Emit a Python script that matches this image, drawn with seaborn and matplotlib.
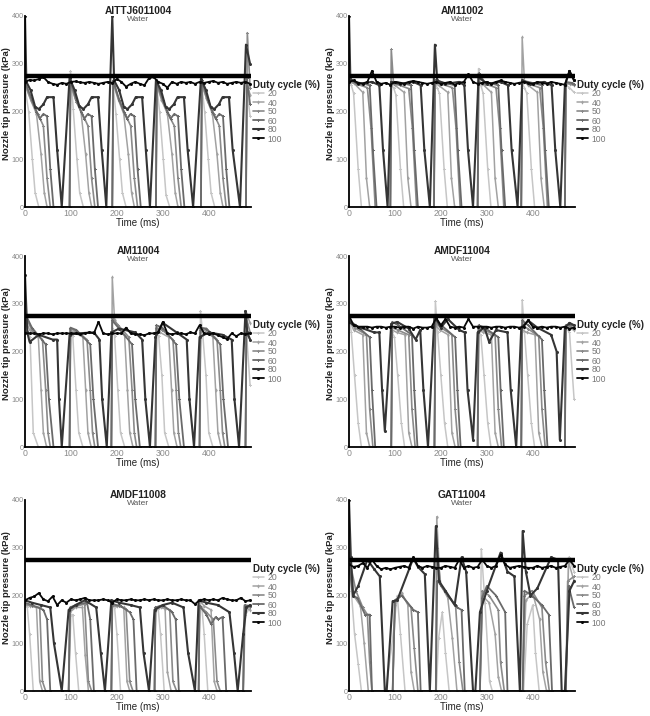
import matplotlib
matplotlib.use("Agg")
import matplotlib.pyplot as plt
import numpy as np
import pandas as pd
import seaborn as sns

sns.set_theme(style="white")
plt.rcParams["font.family"] = ["Liberation Sans", "DejaVu Sans"]

# ---------------- data ----------------
NOZZLES = ["AITTJ6011004", "AM11002", "AM11004", "AMDF11004", "AMDF11008", "GAT11004"]
SUBTITLE = "Water"
DUTY = ["20", "40", "50", "60", "80", "100"]
REF_PRESSURE = 275
X_TICKS = [0, 100, 200, 300, 400]
Y_TICKS = [0, 100, 200, 300, 400]
TIME_100 = list(range(0, 500, 10))

# ---- AITTJ6011004 (time ms, pressure kPa)
A_20 = [(0,250),(8,200),(16,100),(22,30),(30,0),(97,0),(99,285),(105,205),(113,100),(119,30),(127,0),
        (190,0),(192,255),(198,195),(206,100),(212,30),(220,0),(285,0),(287,250),(293,200),(301,100),(307,25),(315,0),
        (383,0),(385,255),(391,200),(399,100),(405,30),(413,0),(481,0),(483,250),(490,190)]
A_40 = [(0,255),(12,225),(25,195),(35,110),(42,30),(48,0),(97,0),(99,255),(109,228),(122,198),(132,110),(139,30),(145,0),
        (190,0),(192,258),(202,228),(215,195),(225,110),(232,30),(238,0),(285,0),(287,255),(297,225),(310,195),(320,110),(327,30),(333,0),
        (383,0),(385,255),(395,228),(408,195),(418,110),(425,30),(431,0),(481,0),(483,260),(490,235)]
A_50 = [(0,258),(15,220),(28,195),(40,170),(48,60),(55,0),(97,0),(99,260),(112,220),(125,195),(137,170),(145,60),(152,0),
        (190,0),(192,262),(205,222),(218,195),(230,170),(238,60),(245,0),(285,0),(287,258),(300,220),(313,192),(325,170),(333,60),(340,0),
        (383,0),(385,260),(398,220),(411,195),(423,170),(431,60),(438,0),(481,0),(484,365),(490,250)]
A_60 = [(0,262),(15,225),(25,200),(32,185),(40,195),(48,190),(55,80),(62,0),(97,0),(99,265),(112,225),(122,200),(129,185),(137,195),(145,190),(152,80),(159,0),
        (190,0),(192,265),(205,225),(215,200),(222,185),(230,195),(238,190),(245,80),(252,0),(285,0),(287,262),(300,225),(310,200),(317,185),(325,195),(333,190),(340,80),(347,0),
        (383,0),(385,265),(398,225),(408,200),(415,185),(423,195),(431,190),(438,80),(445,0),(481,0),(483,270),(490,215)]
A_80 = [(0,400),(3,262),(12,245),(22,210),(30,205),(40,215),(48,230),(62,230),(70,120),(80,0),
        (97,270),(108,245),(118,212),(127,205),(137,215),(145,230),(159,230),(167,120),(177,0),
        (190,400),(194,265),(205,245),(215,210),(223,205),(233,215),(241,230),(255,230),(263,120),(272,0),
        (285,265),(296,245),(306,210),(314,205),(324,215),(332,230),(346,230),(354,120),(366,0),
        (383,268),(394,245),(404,210),(412,205),(422,215),(430,230),(444,230),(452,120),(468,0),(481,340),(490,300)]
A_100 = [262,266,265,268,272,262,258,256,260,258,262,263,261,260,262,260,258,260,262,260,
         268,262,252,258,262,258,255,270,272,262,258,250,262,258,262,260,262,258,262,260,
         262,264,260,262,258,260,262,260,262,258]

# ---- AM11002
B_20 = [(0,262),(5,255),(10,238),(20,80),(27,0),(90,0),(92,255),(97,250),(102,235),(112,80),(119,0),
        (185,0),(187,258),(192,250),(197,238),(207,80),(214,0),(280,0),(282,290),(287,255),(292,238),(302,80),(309,0),
        (375,0),(377,258),(382,250),(387,238),(397,80),(404,0),(470,0),(472,255),(480,250),(490,240)]
B_40 = [(0,265),(10,260),(30,240),(38,60),(45,0),(90,0),(92,258),(100,255),(120,240),(128,60),(135,0),
        (185,0),(187,258),(195,255),(215,240),(223,60),(230,0),(280,0),(282,262),(290,258),(310,240),(318,60),(325,0),
        (375,0),(377,355),(382,262),(390,255),(410,240),(418,60),(425,0),(470,0),(472,258),(482,258),(490,255)]
B_50 = [(0,262),(15,258),(40,250),(48,165),(57,0),(90,0),(92,330),(97,258),(110,255),(130,248),(138,165),(147,0),
        (185,0),(187,260),(200,258),(225,250),(233,165),(242,0),(280,0),(282,262),(295,258),(320,250),(328,165),(337,0),
        (375,0),(377,262),(390,258),(415,250),(423,165),(432,0),(470,0),(472,260),(490,255)]
B_60 = [(0,265),(15,262),(45,255),(52,120),(60,0),(90,0),(92,262),(105,262),(135,255),(142,120),(150,0),
        (185,0),(187,265),(200,262),(230,255),(237,120),(245,0),(280,0),(282,280),(295,262),(325,255),(332,120),(340,0),
        (375,0),(377,265),(390,262),(420,255),(427,120),(435,0),(470,0),(472,262),(485,260),(490,258)]
B_80 = [(0,400),(3,268),(20,258),(50,262),(66,255),(74,120),(84,0),
        (92,262),(110,258),(140,262),(156,255),(164,120),(176,0),
        (187,340),(192,265),(210,258),(240,262),(251,255),(259,120),(270,0),
        (282,272),(300,258),(330,262),(346,255),(354,120),(367,0),
        (377,265),(395,258),(425,262),(441,255),(449,120),(460,0),(470,255),(480,285),(490,265)]
B_100 = [262,265,260,258,262,285,262,258,260,256,262,260,258,262,264,262,260,258,260,262,
         258,260,262,256,260,262,278,262,258,260,262,258,262,265,262,260,258,260,262,260,
         258,262,260,258,262,260,258,256,285,265]

# ---- AM11004
C_20 = [(0,265),(5,245),(11,230),(18,30),(29,0),(97,0),(99,242),(104,232),(111,120),(117,30),(126,0),
        (188,0),(190,250),(195,232),(202,120),(208,30),(217,0),(284,0),(286,242),(291,232),(298,150),(304,30),(313,0),
        (380,0),(382,285),(387,235),(394,150),(400,30),(409,0),(480,0),(482,240),(490,130)]
C_40 = [(0,270),(10,245),(29,230),(35,120),(40,30),(47,0),(97,0),(99,245),(107,240),(126,230),(132,120),(137,30),(144,0),
        (188,0),(190,355),(195,265),(217,232),(223,120),(228,30),(235,0),(284,0),(286,248),(294,240),(313,230),(319,120),(324,30),(331,0),
        (380,0),(382,240),(392,245),(409,230),(415,120),(420,30),(427,0),(480,0),(482,280),(490,260)]
C_50 = [(0,275),(15,245),(38,225),(45,120),(50,30),(55,0),(97,0),(99,248),(112,242),(135,225),(142,120),(147,30),(152,0),
        (188,0),(190,270),(203,255),(226,230),(233,120),(238,30),(243,0),(284,0),(286,250),(299,245),(322,225),(329,120),(334,30),(339,0),
        (380,0),(382,245),(395,248),(418,225),(425,120),(430,30),(435,0),(480,0),(482,270),(490,240)]
C_60 = [(0,280),(15,250),(45,215),(52,100),(62,0),(97,0),(99,250),(112,245),(142,215),(149,100),(159,0),
        (188,0),(190,265),(203,250),(233,215),(240,100),(250,0),(284,0),(286,255),(299,250),(329,215),(336,100),(346,0),
        (380,0),(382,250),(395,248),(425,215),(432,100),(442,0),(480,0),(482,240),(490,225)]
C_80 = [(0,360),(5,240),(10,220),(30,235),(60,225),(70,225),(74,100),(80,0),
        (97,235),(115,238),(150,240),(162,225),(168,100),(178,0),
        (188,240),(205,248),(240,240),(255,225),(262,100),(272,0),
        (284,230),(300,260),(330,240),(352,225),(358,100),(368,0),
        (380,230),(400,240),(430,235),(450,225),(456,100),(466,0),(480,285),(484,240),(490,225)]
C_100 = [238,238,238,236,238,238,236,238,238,238,238,238,236,238,240,238,262,238,236,238,
         238,238,250,238,236,236,234,238,238,240,262,238,236,238,238,236,240,238,255,238,
         236,238,234,230,226,238,232,238,236,238]

# ---- AMDF11004
D_20 = [(0,275),(5,240),(12,150),(20,50),(27,0),(92,0),(94,240),(99,230),(106,150),(114,50),(121,0),
        (186,0),(188,305),(193,240),(200,150),(208,50),(215,0),(280,0),(282,240),(287,235),(294,150),(302,50),(309,0),
        (375,0),(377,308),(382,240),(389,150),(397,50),(404,0),(470,0),(472,250),(480,240),(490,100)]
D_40 = [(0,270),(10,245),(30,235),(38,30),(45,0),(92,0),(94,245),(104,240),(122,235),(130,30),(137,0),
        (186,0),(188,255),(198,245),(216,235),(224,30),(231,0),(280,0),(282,245),(292,240),(310,235),(318,30),(325,0),
        (375,0),(377,245),(387,240),(405,235),(413,30),(420,0),(470,0),(472,250),(490,245)]
D_50 = [(0,268),(12,250),(38,235),(45,80),(52,0),(92,0),(94,250),(106,245),(130,235),(137,80),(144,0),
        (186,0),(188,260),(200,250),(224,235),(231,80),(238,0),(280,0),(282,250),(294,245),(318,235),(325,80),(332,0),
        (375,0),(377,255),(389,248),(413,232),(420,80),(427,0),(470,0),(472,255),(490,250)]
D_60 = [(0,265),(15,255),(45,230),(50,120),(57,0),(92,0),(94,262),(107,255),(137,235),(142,120),(149,0),
        (186,0),(188,265),(201,255),(231,230),(236,120),(243,0),(280,0),(282,255),(295,250),(325,230),(330,120),(337,0),
        (375,0),(377,265),(390,255),(420,225),(425,120),(432,0),(470,0),(472,255),(490,255)]
D_80 = [(0,262),(10,255),(25,250),(55,240),(66,240),(72,120),(78,33),
        (92,258),(105,262),(130,248),(145,225),(155,245),(162,120),(172,0),
        (186,275),(200,250),(215,268),(240,245),(252,240),(258,120),(270,15),
        (280,240),(295,250),(305,220),(320,245),(345,240),(352,120),(364,0),
        (375,250),(390,265),(410,250),(440,235),(452,200),(459,15),(470,250),(480,260),(490,255)]
D_100 = [275,255,252,252,252,250,252,252,250,252,252,250,252,252,248,252,250,250,252,270,
         255,268,252,250,252,250,268,252,252,252,252,250,252,252,250,252,252,250,252,265,
         252,250,252,250,252,252,250,252,248,250]

# ---- AMDF11008
E_20 = [(0,178),(5,175),(10,120),(18,0),(95,0),(100,160),(104,160),(110,80),(117,0),
        (188,0),(190,178),(195,175),(200,120),(208,0),(282,0),(284,165),(290,172),(295,120),(303,0),
        (378,0),(380,185),(385,175),(390,120),(398,0),(475,0),(480,160),(490,175)]
E_40 = [(0,180),(10,178),(25,175),(32,20),(38,0),(95,0),(98,165),(110,175),(125,175),(131,75),(138,0),
        (188,0),(190,185),(200,178),(215,175),(222,20),(228,0),(282,0),(284,170),(295,175),(305,172),(310,40),(318,0),
        (378,0),(380,190),(390,178),(405,170),(412,20),(418,0),(475,0),(478,175),(490,170)]
E_50 = [(0,182),(15,178),(32,175),(38,20),(45,0),(95,0),(98,170),(112,178),(130,182),(138,20),(145,0),
        (188,0),(190,178),(205,178),(220,172),(228,20),(235,0),(282,0),(284,175),(298,178),(315,170),(322,20),(330,0),
        (378,0),(380,178),(395,165),(410,150),(418,20),(425,0),(475,0),(478,178),(490,175)]
E_60 = [(0,185),(15,180),(40,170),(48,150),(55,0),(95,0),(98,175),(115,182),(135,185),(142,150),(150,0),
        (188,0),(190,182),(208,178),(228,165),(236,150),(243,0),(282,0),(284,175),(300,180),(320,165),(328,150),(335,0),
        (378,0),(380,178),(395,160),(405,140),(415,155),(420,150),(430,155),(438,0),(475,0),(478,180),(490,178)]
E_80 = [(0,190),(15,185),(35,180),(55,175),(63,100),(80,0),
        (95,170),(110,180),(130,190),(155,175),(165,80),(174,0),
        (188,190),(205,185),(230,180),(250,175),(258,80),(270,0),
        (282,170),(300,180),(320,185),(345,175),(355,80),(370,0),
        (378,190),(395,185),(420,180),(445,165),(455,80),(463,0),(475,120),(482,175),(490,180)]
E_100 = [190,195,198,205,192,188,198,180,190,185,192,190,192,195,190,190,190,192,190,185,
         192,190,190,192,190,190,192,190,192,190,190,192,190,190,192,190,190,182,190,192,
         190,192,190,195,192,190,190,195,188,190]

# ---- GAT11004
F_20 = [(0,300),(5,210),(12,120),(20,57),(27,0),(80,0),(95,110),(105,200),(112,120),(122,0),
        (190,0),(195,110),(203,165),(210,80),(218,0),(285,0),(288,298),(296,185),(306,20),(312,0),
        (380,0),(388,140),(400,180),(406,80),(414,0),(472,0),(478,280),(490,250)]
F_40 = [(0,290),(10,200),(25,178),(33,100),(42,0),(95,0),(100,180),(115,205),(128,180),(135,40),(142,0),
        (189,0),(191,365),(198,225),(215,195),(225,110),(235,0),(285,0),(290,200),(305,185),(318,120),(325,30),(332,0),
        (378,0),(385,190),(400,205),(415,150),(422,40),(430,0),(472,0),(478,270),(490,230)]
F_50 = [(0,280),(15,210),(30,175),(40,160),(45,60),(50,0),(95,0),(100,190),(115,200),(135,175),(142,90),(150,0),
        (189,0),(191,300),(200,220),(220,195),(232,180),(240,60),(248,0),(285,0),(290,210),(305,200),(325,170),(330,60),(338,0),
        (378,0),(382,200),(398,210),(420,175),(428,60),(436,0),(472,0),(476,230),(490,240)]
F_60 = [(0,270),(8,200),(18,195),(35,160),(45,160),(50,0),(95,0),(100,190),(115,200),(140,170),(150,165),(156,0),
        (189,0),(192,230),(198,225),(215,200),(235,175),(245,170),(252,0),(285,0),(290,195),(300,220),(320,200),(340,165),(345,0),
        (378,0),(382,210),(398,200),(420,180),(435,160),(442,0),(472,0),(478,220),(490,175)]
F_80 = [(0,400),(4,280),(9,200),(20,220),(40,275),(55,255),(67,240),(78,0),
        (82,0),(95,188),(105,190),(140,278),(150,260),(165,245),(176,0),
        (189,345),(196,230),(210,210),(230,180),(245,280),(255,250),(270,0),
        (275,0),(285,165),(300,210),(330,290),(345,250),(360,240),(372,0),
        (378,335),(385,250),(395,200),(410,215),(440,280),(455,275),(463,0),(470,0),(480,210),(490,230)]
F_100 = [265,260,262,268,258,275,262,255,258,255,258,260,262,258,280,262,258,262,260,258,
         258,262,260,258,275,258,262,258,260,275,262,258,262,285,265,258,260,262,260,258,
         258,262,258,260,262,258,260,262,275,262]

PANELS = [
    (A_20, A_40, A_50, A_60, A_80, A_100),
    (B_20, B_40, B_50, B_60, B_80, B_100),
    (C_20, C_40, C_50, C_60, C_80, C_100),
    (D_20, D_40, D_50, D_60, D_80, D_100),
    (E_20, E_40, E_50, E_60, E_80, E_100),
    (F_20, F_40, F_50, F_60, F_80, F_100),
]

# ---------------- styles ----------------
PALETTE = {"20": "#c6c6c6", "40": "#a2a2a2", "50": "#8a8a8a", "60": "#6a6a6a", "80": "#353535", "100": "#080808"}
MARKERS = {"20": "P", "40": "d", "50": "P", "60": "P", "80": "o", "100": "o"}
SIZES = {"20": 1.1, "40": 1.1, "50": 1.2, "60": 1.3, "80": 1.5, "100": 1.3}

W, H = 650, 716
fig = plt.figure(figsize=(W / 100, H / 100), dpi=100)
col_left = [25, 349]
col_w = 226
row_top = [16, 256, 500]
row_h = 191


def panel_frame(series):
    rows = []
    for d, s in zip(DUTY[:-1], series[:-1]):
        for i, (t, p) in enumerate(s):
            rows.append((t, p, d, i))
    for i, (t, p) in enumerate(zip(TIME_100, series[-1])):
        rows.append((t, p, "100", i))
    return pd.DataFrame(rows, columns=["time", "pressure", "duty", "idx"])


for k, (name, series) in enumerate(zip(NOZZLES, PANELS)):
    r, c = divmod(k, 2)
    left = col_left[c] / W
    bottom = 1 - (row_top[r] + row_h) / H
    ax = fig.add_axes([left, bottom, col_w / W, row_h / H])
    df = panel_frame(series)
    sns.lineplot(data=df, x="time", y="pressure", hue="duty", style="duty", size="duty",
                 hue_order=DUTY, style_order=DUTY, size_order=DUTY,
                 palette=PALETTE, markers=MARKERS, sizes=SIZES, dashes=False,
                 sort=False, estimator=None, markersize=2.2, markeredgewidth=0.0,
                 legend="full", ax=ax)
    ax.axhline(REF_PRESSURE, color="black", lw=3.2, zorder=5)
    ax.set_xlim(0, 492)
    ax.set_ylim(0, 400)
    ax.set_xticks(X_TICKS)
    ax.set_yticks(Y_TICKS)
    ax.tick_params(axis="x", labelsize=6.3, colors="#8a8a8a", length=0, pad=1.5)
    ax.tick_params(axis="y", labelsize=5.2, colors="#8a8a8a", length=0, pad=1.0)
    for sp in ["top", "right"]:
        ax.spines[sp].set_visible(False)
    for sp in ["left", "bottom"]:
        ax.spines[sp].set_color("black")
        ax.spines[sp].set_linewidth(1.3)
    ax.set_xlabel("Time (ms)", fontsize=7.0, color="#222222")
    ax.xaxis.set_label_coords(0.5, -0.058)
    ax.set_ylabel("Nozzle tip pressure (kPa)", fontsize=6.8, fontweight="bold", color="#222222")
    ax.yaxis.set_label_coords(-0.064, 0.54)
    ax.text(0.5, 1.027, name, transform=ax.transAxes, ha="center", va="center",
            fontsize=7.4, fontweight="bold", color="#222222")
    ax.text(0.5, 0.982, SUBTITLE, transform=ax.transAxes, ha="center", va="center",
            fontsize=6.0, color="#555555")
    sns.move_legend(ax, "center left", bbox_to_anchor=(1.0, 0.50), frameon=False,
                    title="Duty cycle (%)", fontsize=6.2, title_fontsize=7.0,
                    handlelength=1.3, handletextpad=0.4, labelspacing=0.0,
                    borderaxespad=0.1, borderpad=0.1)
    leg = ax.get_legend()
    leg.get_title().set_fontweight("bold")
    leg.get_title().set_color("#222222")
    leg._legend_box.align = "left"
    for t in leg.get_texts():
        t.set_color("#777777")

fig.savefig("out.png", dpi=100)
